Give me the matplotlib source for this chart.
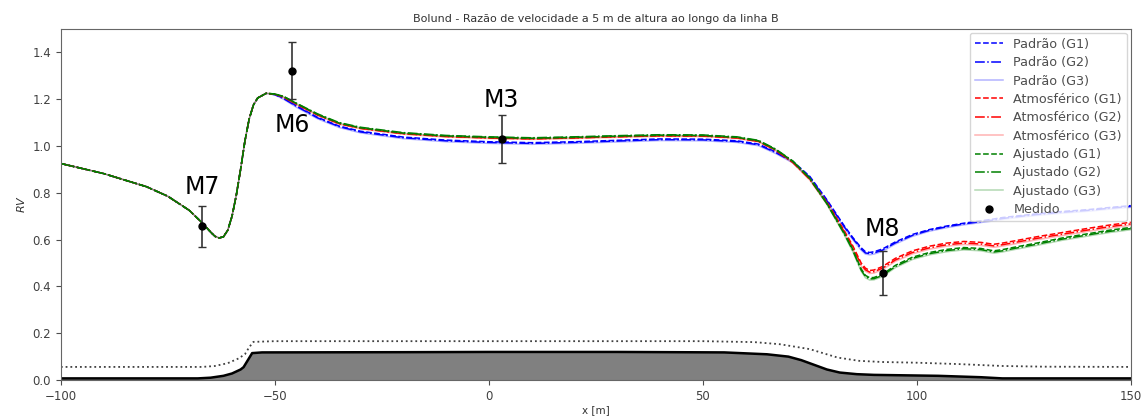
import matplotlib
matplotlib.use("Agg")
import matplotlib.pyplot as plt

# distance along line B [m]
x = [-100, -90, -80, -75, -70, -67, -65, -64, -63, -62,
     -61, -60, -59, -58, -57, -56, -55, -54, -52, -50,
     -48, -45, -40, -35, -30, -20, -10, 0, 10, 20,
     30, 40, 50, 58, 63, 67, 71, 75, 79, 83,
     85, 87, 88, 89, 90, 92, 95, 99, 103, 107,
     111, 115, 118, 120, 123, 128, 134, 140, 145, 150]

# speed ratio, Padrao (standard) model
padrao_g1 = [0.925, 0.882, 0.826, 0.785, 0.725, 0.672, 0.632, 0.614, 0.607, 0.612,
             0.640, 0.700, 0.790, 0.900, 1.020, 1.115, 1.175, 1.205, 1.225, 1.220,
             1.205, 1.172, 1.122, 1.085, 1.063, 1.038, 1.025, 1.018, 1.014, 1.018,
             1.024, 1.030, 1.029, 1.022, 1.008, 0.975, 0.935, 0.870, 0.770, 0.660,
             0.610, 0.565, 0.548, 0.545, 0.548, 0.560, 0.590, 0.622, 0.643, 0.658,
             0.670, 0.680, 0.688, 0.694, 0.700, 0.710, 0.720, 0.728, 0.737, 0.745]
padrao_g2 = [0.925, 0.882, 0.826, 0.785, 0.725, 0.672, 0.632, 0.614, 0.607, 0.612,
             0.640, 0.700, 0.790, 0.900, 1.020, 1.115, 1.175, 1.205, 1.225, 1.219,
             1.203, 1.170, 1.120, 1.083, 1.060, 1.035, 1.022, 1.015, 1.011, 1.015,
             1.021, 1.027, 1.026, 1.019, 1.005, 0.972, 0.932, 0.866, 0.766, 0.656,
             0.606, 0.560, 0.543, 0.540, 0.543, 0.555, 0.586, 0.618, 0.640, 0.655,
             0.667, 0.677, 0.684, 0.690, 0.697, 0.707, 0.717, 0.725, 0.734, 0.742]
padrao_g3 = [0.925, 0.882, 0.826, 0.785, 0.725, 0.672, 0.632, 0.614, 0.607, 0.612,
             0.640, 0.700, 0.790, 0.900, 1.020, 1.115, 1.175, 1.205, 1.225, 1.218,
             1.200, 1.166, 1.116, 1.079, 1.056, 1.031, 1.018, 1.011, 1.007, 1.011,
             1.017, 1.023, 1.022, 1.015, 1.001, 0.968, 0.928, 0.862, 0.762, 0.652,
             0.601, 0.555, 0.538, 0.535, 0.538, 0.550, 0.581, 0.614, 0.636, 0.651,
             0.663, 0.673, 0.680, 0.686, 0.693, 0.703, 0.713, 0.721, 0.730, 0.738]

# speed ratio, Atmosferico model
atmos_g1 = [0.925, 0.882, 0.826, 0.785, 0.725, 0.672, 0.632, 0.614, 0.607, 0.612,
            0.640, 0.700, 0.790, 0.900, 1.020, 1.115, 1.175, 1.205, 1.225, 1.221,
            1.210, 1.180, 1.133, 1.096, 1.076, 1.053, 1.041, 1.035, 1.031, 1.035,
            1.040, 1.044, 1.043, 1.035, 1.020, 0.983, 0.932, 0.860, 0.760, 0.640,
            0.575, 0.500, 0.478, 0.468, 0.470, 0.485, 0.520, 0.552, 0.572, 0.585,
            0.592, 0.588, 0.580, 0.585, 0.595, 0.612, 0.630, 0.648, 0.662, 0.674]
atmos_g2 = [0.925, 0.882, 0.826, 0.785, 0.725, 0.672, 0.632, 0.614, 0.607, 0.612,
            0.640, 0.700, 0.790, 0.900, 1.020, 1.115, 1.175, 1.205, 1.225, 1.221,
            1.209, 1.179, 1.132, 1.095, 1.075, 1.052, 1.040, 1.034, 1.030, 1.034,
            1.039, 1.043, 1.042, 1.034, 1.019, 0.982, 0.930, 0.857, 0.756, 0.635,
            0.568, 0.493, 0.471, 0.461, 0.463, 0.478, 0.513, 0.545, 0.565, 0.578,
            0.585, 0.581, 0.573, 0.578, 0.588, 0.605, 0.623, 0.641, 0.655, 0.667]
atmos_g3 = [0.925, 0.882, 0.826, 0.785, 0.725, 0.672, 0.632, 0.614, 0.607, 0.612,
            0.640, 0.700, 0.790, 0.900, 1.020, 1.115, 1.175, 1.205, 1.225, 1.220,
            1.208, 1.177, 1.130, 1.093, 1.073, 1.050, 1.038, 1.032, 1.028, 1.032,
            1.037, 1.041, 1.040, 1.032, 1.017, 0.980, 0.928, 0.854, 0.752, 0.630,
            0.562, 0.487, 0.465, 0.455, 0.457, 0.472, 0.507, 0.539, 0.559, 0.572,
            0.579, 0.575, 0.567, 0.572, 0.582, 0.599, 0.617, 0.635, 0.649, 0.661]

# speed ratio, Ajustado (adjusted) model
ajust_g1 = [0.925, 0.882, 0.826, 0.785, 0.725, 0.672, 0.632, 0.614, 0.607, 0.612,
            0.640, 0.700, 0.790, 0.900, 1.020, 1.115, 1.175, 1.205, 1.225, 1.222,
            1.212, 1.182, 1.135, 1.098, 1.078, 1.055, 1.043, 1.037, 1.033, 1.037,
            1.042, 1.046, 1.045, 1.037, 1.022, 0.985, 0.935, 0.862, 0.755, 0.630,
            0.560, 0.475, 0.447, 0.437, 0.438, 0.452, 0.490, 0.525, 0.545, 0.558,
            0.566, 0.562, 0.552, 0.557, 0.568, 0.585, 0.607, 0.625, 0.640, 0.652]
ajust_g2 = [0.925, 0.882, 0.826, 0.785, 0.725, 0.672, 0.632, 0.614, 0.607, 0.612,
            0.640, 0.700, 0.790, 0.900, 1.020, 1.115, 1.175, 1.205, 1.225, 1.222,
            1.212, 1.183, 1.137, 1.100, 1.080, 1.057, 1.045, 1.039, 1.035, 1.039,
            1.044, 1.048, 1.047, 1.039, 1.024, 0.987, 0.936, 0.862, 0.753, 0.626,
            0.555, 0.470, 0.442, 0.432, 0.433, 0.447, 0.485, 0.520, 0.540, 0.553,
            0.561, 0.557, 0.547, 0.552, 0.563, 0.580, 0.602, 0.620, 0.635, 0.647]
ajust_g3 = [0.925, 0.882, 0.826, 0.785, 0.725, 0.672, 0.632, 0.614, 0.607, 0.612,
            0.640, 0.700, 0.790, 0.900, 1.020, 1.115, 1.175, 1.205, 1.225, 1.221,
            1.211, 1.181, 1.134, 1.097, 1.077, 1.054, 1.042, 1.036, 1.032, 1.036,
            1.041, 1.045, 1.044, 1.036, 1.021, 0.984, 0.933, 0.859, 0.750, 0.622,
            0.550, 0.465, 0.437, 0.427, 0.428, 0.442, 0.480, 0.515, 0.535, 0.548,
            0.556, 0.552, 0.542, 0.547, 0.558, 0.575, 0.597, 0.615, 0.630, 0.642]

# measurements
med_names = ["M7", "M6", "M3", "M8"]
med_x = [-67.0, -46.0, 3.0, 92.0]
med_rv = [0.656, 1.322, 1.029, 0.458]
med_err = [0.088, 0.122, 0.102, 0.094]

# terrain profile (scaled) and 5 m line
terr_x = [-100, -68, -65, -62, -60, -58, -57.3, -56.3, -55.3, -53, -20, 0, 30, 55,
          65, 70, 73, 76, 79, 82, 86, 90, 105, 115, 120, 150]
terr_h = [0.007, 0.007, 0.010, 0.018, 0.028, 0.045, 0.055, 0.085, 0.115, 0.118, 0.119,
          0.120, 0.120, 0.118, 0.110, 0.100, 0.085, 0.065, 0.045, 0.032, 0.025, 0.022,
          0.018, 0.012, 0.007, 0.007]
line5_x = [-100, -67, -64, -61, -58.5, -57, -56, -55, -50, 50, 62, 68, 75, 81.5,
           86.5, 92, 100, 110, 120, 130, 150]
line5_h = [0.056, 0.056, 0.060, 0.072, 0.092, 0.110, 0.140, 0.163, 0.166, 0.166,
           0.162, 0.153, 0.132, 0.096, 0.082, 0.077, 0.074, 0.068, 0.060, 0.057, 0.056]

fig = plt.figure(figsize=(11.48, 4.19), dpi=100)
ax = fig.add_axes([0.053, 0.093, 0.932, 0.838])

series = [
    (padrao_g1, "b", "--", 1.0, "Padrão (G1)"),
    (padrao_g2, "b", "-.", 1.0, "Padrão (G2)"),
    (padrao_g3, "b", "-", 0.3, "Padrão (G3)"),
    (atmos_g1, "r", "--", 1.0, "Atmosférico (G1)"),
    (atmos_g2, "r", "-.", 1.0, "Atmosférico (G2)"),
    (atmos_g3, "r", "-", 0.3, "Atmosférico (G3)"),
    (ajust_g1, "g", "--", 1.0, "Ajustado (G1)"),
    (ajust_g2, "g", "-.", 1.0, "Ajustado (G2)"),
    (ajust_g3, "g", "-", 0.3, "Ajustado (G3)"),
]
for vals, c, ls, a, lab in series:
    ax.plot(x, vals, color=c, ls=ls, alpha=a, lw=1.1, label=lab)

ax.errorbar(med_x, med_rv, yerr=med_err, fmt="none", ecolor="0.2",
            elinewidth=1.2, capsize=3, zorder=5)
ax.plot(med_x, med_rv, "o", color="k", ms=5, label="Medido", zorder=6)
text_y = [0.823, 1.09, 1.198, 0.647]
for name, xx, ty in zip(med_names, med_x, text_y):
    ax.text(xx, ty, name, fontsize=17, ha="center", va="center")

ax.fill_between(terr_x, 0, terr_h, color="0.5")
ax.plot(terr_x, terr_h, color="k", lw=1.8)
ax.plot(line5_x, line5_h, color="0.25", ls=":", lw=1.3)

ax.set_xlim(-100, 150)
ax.set_ylim(0, 1.5)
ax.set_yticks([0.0, 0.2, 0.4, 0.6, 0.8, 1.0, 1.2, 1.4])
ax.tick_params(labelsize=8.5, colors="0.3", labelcolor="0.25")
for s in ax.spines.values():
    s.set_color("0.4")
ax.set_title("Bolund - Razão de velocidade a 5 m de altura ao longo da linha B",
             fontsize=8, color="0.2", pad=5)
ax.set_xlabel("x [m]", fontsize=7.5, color="0.2", labelpad=2)
ax.set_ylabel("$RV$", fontsize=8, color="0.2")
ax.legend(loc="upper right", fontsize=9.2, labelcolor="0.3", borderaxespad=0.3,
          handlelength=2.2, labelspacing=0.42)

fig.savefig("out.png", dpi=100)
